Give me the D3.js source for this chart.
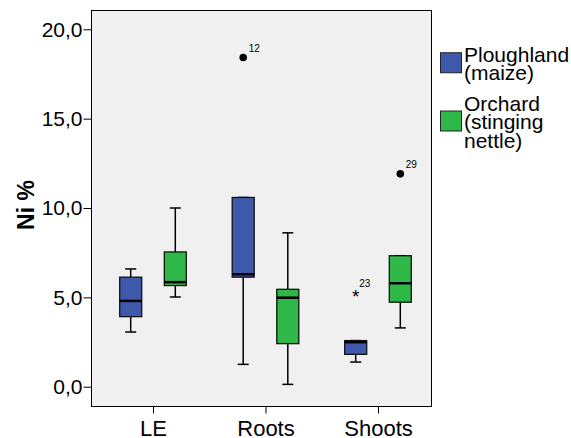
<!DOCTYPE html>
<html>
<head>
<meta charset="utf-8">
<script src="https://cdnjs.cloudflare.com/ajax/libs/d3/7.8.5/d3.min.js"></script>
<style>
body { margin: 0; background: #fff; }
svg { display: block; }
text { font-family: Arial, "Liberation Sans", sans-serif; }
</style>
</head>
<body>
<div id="chart"></div>
<script>
width = 571;
height = 438;
frame = {left: 91, right: 431, top: 10, bottom: 406};

var categories = ["LE", "Roots", "Shoots"];
var seriesNames = ["Ploughland (maize)", "Orchard (stinging nettle)"];
var seriesLines = [["Ploughland", "(maize)"], ["Orchard", "(stinging", "nettle)"]];
var seriesColors = ["#3E58AC", "#2EB848"];
// [lower whisker, Q1, median, Q3, upper whisker] for LE, Roots, Shoots
var ploughland = [[3.06, 3.92, 4.80, 6.13, 6.59], [1.25, 6.13, 6.29, 10.59, 10.59], [1.38, 1.81, 2.49, 2.58, 2.58]];
var orchard = [[5.02, 5.66, 5.85, 7.54, 10.0], [0.13, 2.41, 4.98, 5.45, 8.61], [3.29, 4.73, 5.79, 7.33, 7.33]];
var outlierCats = ["Roots", "Shoots", "Shoots"];
var outlierSeries = [0, 0, 1];
var outlierValues = [18.42, 5.19, 11.91];
var outlierCases = ["12", "23", "29"];
var outlierExtreme = [false, true, false];
var yTicks = [0, 5, 10, 15, 20];

var allStats = [ploughland, orchard];

var svg = d3.select("#chart").append("svg")
    .attr("width", width)
    .attr("height", height);

var yScale = d3.scaleLinear().domain([-1.08, 21.08]).range([frame.bottom, frame.top]);
var xScale = d3.scalePoint().domain(categories).range([153, 378]);
var subScale = d3.scaleBand().domain([0, 1]).range([-44.6, 44.6]);
var boxW = 22;

function boxX(cat, s) {
    return xScale(cat) + subScale(s) + subScale.bandwidth() / 2;
}

// plot frame
svg.append("rect")
    .attr("x", frame.left + 0.5)
    .attr("y", frame.top + 0.5)
    .attr("width", frame.right - frame.left)
    .attr("height", frame.bottom - frame.top)
    .attr("fill", "#F0F0F0")
    .attr("stroke", "#000")
    .attr("stroke-width", 1);

// axes
var yAxis = d3.axisLeft(yScale)
    .tickValues(yTicks)
    .tickSize(8)
    .tickPadding(1)
    .tickFormat(function(d) { return d3.format(".1f")(d).replace(".", ","); });

var gy = svg.append("g")
    .attr("transform", "translate(" + (frame.left + 0.5) + ",0)")
    .call(yAxis);
gy.select(".domain").remove();
gy.selectAll("text").attr("font-size", 21).attr("font-family", "Arial, 'Liberation Sans', sans-serif").attr("fill", "#000");

var xAxis = d3.axisBottom(xScale).tickSize(7).tickPadding(7);
var gx = svg.append("g")
    .attr("transform", "translate(0," + (frame.bottom + 0.5) + ")")
    .call(xAxis);
gx.select(".domain").remove();
gx.selectAll("text").attr("font-size", 22).attr("font-family", "Arial, 'Liberation Sans', sans-serif").attr("fill", "#000");

svg.append("text")
    .attr("transform", "translate(34,205) rotate(-90)")
    .attr("text-anchor", "middle")
    .attr("font-size", 23)
    .attr("font-weight", "bold")
    .text("Ni %");

// boxes
allStats.forEach(function(stats, s) {
    var g = svg.append("g");
    stats.forEach(function(st, i) {
        var cx = boxX(categories[i], s);
        var lo = st[0], q1 = st[1], med = st[2], q3 = st[3], hi = st[4];
        g.append("line")
            .attr("x1", cx).attr("x2", cx)
            .attr("y1", yScale(lo)).attr("y2", yScale(q1))
            .attr("stroke", "#000").attr("stroke-width", 1.5);
        g.append("line")
            .attr("x1", cx).attr("x2", cx)
            .attr("y1", yScale(q3)).attr("y2", yScale(hi))
            .attr("stroke", "#000").attr("stroke-width", 1.5);
        [lo, hi].forEach(function(v) {
            g.append("line")
                .attr("x1", cx - boxW / 4).attr("x2", cx + boxW / 4)
                .attr("y1", yScale(v)).attr("y2", yScale(v))
                .attr("stroke", "#000").attr("stroke-width", 1.5);
        });
        g.append("rect")
            .attr("x", cx - boxW / 2)
            .attr("y", yScale(q3))
            .attr("width", boxW)
            .attr("height", yScale(q1) - yScale(q3))
            .attr("fill", seriesColors[s])
            .attr("stroke", "#111")
            .attr("stroke-width", 1.3);
        g.append("line")
            .attr("x1", cx - boxW / 2).attr("x2", cx + boxW / 2)
            .attr("y1", yScale(med)).attr("y2", yScale(med))
            .attr("stroke", "#000").attr("stroke-width", 2.5);
    });
});

// outliers
outlierValues.forEach(function(v, k) {
    var cx = boxX(outlierCats[k], outlierSeries[k]);
    var cy = yScale(v);
    if (outlierExtreme[k]) {
        svg.append("text")
            .attr("x", cx).attr("y", cy + 9)
            .attr("text-anchor", "middle")
            .attr("font-size", 19)
            .text("*");
        svg.append("text")
            .attr("x", cx + 3.6).attr("y", cy - 6.5)
            .attr("font-size", 10)
            .text(outlierCases[k]);
    } else {
        svg.append("circle")
            .attr("cx", cx).attr("cy", cy).attr("r", 3.8)
            .attr("fill", "#000");
        svg.append("text")
            .attr("x", cx + 5.5).attr("y", cy - 6)
            .attr("font-size", 10)
            .text(outlierCases[k]);
    }
});

// legend
var lineH = 18.5, capH = 15;
var legY = 61.5;
seriesLines.forEach(function(lines, s) {
    var blockTop = legY - capH;
    var blockBottom = legY + (lines.length - 1) * lineH;
    var mid = (blockTop + blockBottom) / 2;
    svg.append("rect")
        .attr("x", 440.5).attr("y", mid - 10.5)
        .attr("width", 21).attr("height", 20)
        .attr("fill", seriesColors[s])
        .attr("stroke", "#222").attr("stroke-width", 1);
    lines.forEach(function(t, j) {
        svg.append("text")
            .attr("x", 464)
            .attr("y", legY + j * lineH)
            .attr("font-size", 21)
            .text(t);
    });
    legY = blockBottom + lineH + 12;
});
</script>
</body>
</html>
